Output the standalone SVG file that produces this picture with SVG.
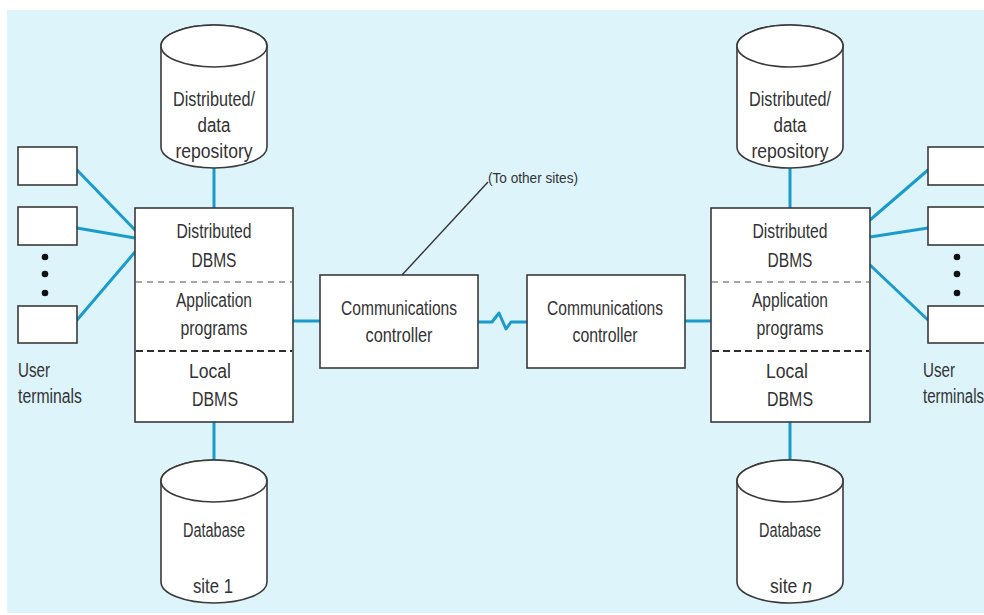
<svg xmlns="http://www.w3.org/2000/svg" width="984" height="615" viewBox="0 0 984 615">
  <defs>
    <style>
      .bg { fill: #ddf4fb; }
      .box { fill: #ffffff; stroke: #3a3a3a; stroke-width: 1.6; }
      .link { fill: none; stroke: #1b9bcb; stroke-width: 3; stroke-linecap: round; stroke-linejoin: round; }
      .lead { fill: none; stroke: #333333; stroke-width: 1.4; }
      .dash-light { stroke: #8a8a8a; stroke-width: 1.4; stroke-dasharray: 6 5; }
      .dash-dark { stroke: #2e2e2e; stroke-width: 1.8; stroke-dasharray: 7 4; }
      .dot { fill: #111111; }
      text { font-family: "Liberation Sans", Arial, sans-serif; font-size: 19.5px; fill: #333333; }
      .mid { text-anchor: middle; }
      .small { font-size: 14px; }
    </style>
    <!-- cylinder body drawn at origin: cx=0, top ellipse cy=0 -->
    <g id="cyl">
      <path class="box" d="M -53 0 L -53 101 A 53 21 0 0 0 53 101 L 53 0 A 53 21 0 0 0 -53 0 Z"/>
      <ellipse class="box" cx="0" cy="0" rx="53" ry="21"/>
    </g>
  </defs>

  <rect x="0" y="0" width="984" height="615" fill="#ffffff"/>
  <rect class="bg" x="7" y="10" width="977" height="603"/>

  <!-- connectors -->
  <g id="connectors">
    <!-- site 1 -->
    <line class="link" x1="214" y1="168" x2="214" y2="208"/>
    <line class="link" x1="214" y1="422" x2="214" y2="460"/>
    <line class="link" x1="77" y1="170" x2="135" y2="230"/>
    <line class="link" x1="77" y1="228" x2="135" y2="238"/>
    <line class="link" x1="77" y1="320" x2="135" y2="252"/>
    <line class="link" x1="293" y1="321" x2="320" y2="321"/>
    <!-- site n -->
    <line class="link" x1="790" y1="168" x2="790" y2="208"/>
    <line class="link" x1="790" y1="422" x2="790" y2="460"/>
    <line class="link" x1="870" y1="220" x2="928" y2="170"/>
    <line class="link" x1="870" y1="237" x2="928" y2="228"/>
    <line class="link" x1="870" y1="265" x2="928" y2="320"/>
    <line class="link" x1="685" y1="321" x2="711" y2="321"/>
    <!-- link between controllers -->
    <polyline class="link" points="478,322 492,322 499,313 506,329 511,322 527,322"/>
    <!-- leader to other sites -->
    <line class="lead" x1="402" y1="275" x2="488" y2="182"/>
  </g>

  <!-- site 1 -->
  <g id="repo-1">
    <use href="#cyl" transform="translate(214,46)"/>
    <text class="mid" x="214" y="106" textLength="82" lengthAdjust="spacingAndGlyphs">Distributed/</text>
    <text class="mid" x="214" y="132" textLength="33" lengthAdjust="spacingAndGlyphs">data</text>
    <text class="mid" x="214" y="158" textLength="77" lengthAdjust="spacingAndGlyphs">repository</text>
  </g>

  <g id="dbms-1">
    <rect class="box" x="135" y="208" width="158" height="214"/>
    <line class="dash-light" x1="136" y1="282" x2="292" y2="282"/>
    <line class="dash-dark" x1="136" y1="351" x2="292" y2="351"/>
    <text class="mid" x="214" y="238" textLength="75" lengthAdjust="spacingAndGlyphs">Distributed</text>
    <text class="mid" x="214" y="267" textLength="45" lengthAdjust="spacingAndGlyphs">DBMS</text>
    <text class="mid" x="214" y="307" textLength="76" lengthAdjust="spacingAndGlyphs">Application</text>
    <text class="mid" x="214" y="335" textLength="67" lengthAdjust="spacingAndGlyphs">programs</text>
    <text class="mid" x="210" y="378" textLength="42" lengthAdjust="spacingAndGlyphs">Local</text>
    <text class="mid" x="215" y="406" textLength="46" lengthAdjust="spacingAndGlyphs">DBMS</text>
  </g>

  <g id="terminals-1">
    <rect class="box" x="18" y="147" width="59" height="38"/>
    <rect class="box" x="18" y="207" width="59" height="38"/>
    <circle class="dot" cx="45" cy="257" r="3.3"/>
    <circle class="dot" cx="45" cy="274" r="3.3"/>
    <circle class="dot" cx="45" cy="293" r="3.3"/>
    <rect class="box" x="18" y="306" width="59" height="37"/>
    <text x="18" y="377" textLength="32" lengthAdjust="spacingAndGlyphs">User</text>
    <text x="18" y="403" textLength="64" lengthAdjust="spacingAndGlyphs">terminals</text>
  </g>

  <g id="db-1">
    <use href="#cyl" transform="translate(214,481)"/>
    <text class="mid" x="214" y="537" textLength="62" lengthAdjust="spacingAndGlyphs">Database</text>
    <text class="mid" x="213" y="593" textLength="40" lengthAdjust="spacingAndGlyphs">site 1</text>
  </g>

  <!-- communications controllers -->
  <g id="comm-1">
    <rect class="box" x="320" y="275" width="158" height="93"/>
    <text class="mid" x="399" y="315" textLength="116" lengthAdjust="spacingAndGlyphs">Communications</text>
    <text class="mid" x="399" y="342" textLength="67" lengthAdjust="spacingAndGlyphs">controller</text>
  </g>

  <g id="comm-2">
    <rect class="box" x="527" y="275" width="158" height="93"/>
    <text class="mid" x="605" y="315" textLength="116" lengthAdjust="spacingAndGlyphs">Communications</text>
    <text class="mid" x="605" y="342" textLength="65" lengthAdjust="spacingAndGlyphs">controller</text>
  </g>

  <g id="other-sites">
    <text class="small" x="488" y="183" textLength="90" lengthAdjust="spacingAndGlyphs">(To other sites)</text>
  </g>

  <!-- site n -->
  <g id="repo-n">
    <use href="#cyl" transform="translate(790,46)"/>
    <text class="mid" x="790" y="106" textLength="82" lengthAdjust="spacingAndGlyphs">Distributed/</text>
    <text class="mid" x="790" y="132" textLength="33" lengthAdjust="spacingAndGlyphs">data</text>
    <text class="mid" x="790" y="158" textLength="77" lengthAdjust="spacingAndGlyphs">repository</text>
  </g>

  <g id="dbms-n">
    <rect class="box" x="711" y="208" width="159" height="214"/>
    <line class="dash-light" x1="712" y1="282" x2="869" y2="282"/>
    <line class="dash-dark" x1="712" y1="351" x2="869" y2="351"/>
    <text class="mid" x="790" y="238" textLength="75" lengthAdjust="spacingAndGlyphs">Distributed</text>
    <text class="mid" x="790" y="267" textLength="45" lengthAdjust="spacingAndGlyphs">DBMS</text>
    <text class="mid" x="790" y="307" textLength="76" lengthAdjust="spacingAndGlyphs">Application</text>
    <text class="mid" x="790" y="335" textLength="67" lengthAdjust="spacingAndGlyphs">programs</text>
    <text class="mid" x="787" y="378" textLength="42" lengthAdjust="spacingAndGlyphs">Local</text>
    <text class="mid" x="790" y="406" textLength="46" lengthAdjust="spacingAndGlyphs">DBMS</text>
  </g>

  <g id="terminals-n">
    <rect class="box" x="928" y="147" width="62" height="38"/>
    <rect class="box" x="928" y="207" width="62" height="38"/>
    <circle class="dot" cx="957" cy="257" r="3.3"/>
    <circle class="dot" cx="957" cy="274" r="3.3"/>
    <circle class="dot" cx="957" cy="293" r="3.3"/>
    <rect class="box" x="928" y="306" width="62" height="37"/>
    <text x="923" y="377" textLength="32" lengthAdjust="spacingAndGlyphs">User</text>
    <text x="923" y="403" textLength="61" lengthAdjust="spacingAndGlyphs">terminals</text>
  </g>

  <g id="db-n">
    <use href="#cyl" transform="translate(790,481)"/>
    <text class="mid" x="790" y="537" textLength="62" lengthAdjust="spacingAndGlyphs">Database</text>
    <text class="mid" x="791" y="593" textLength="42" lengthAdjust="spacingAndGlyphs">site <tspan font-style="italic">n</tspan></text>
  </g>
</svg>
